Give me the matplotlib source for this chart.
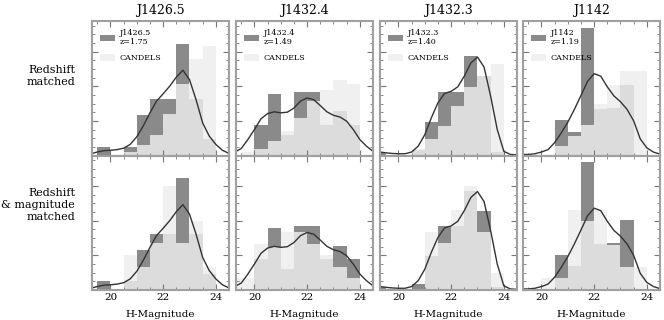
import matplotlib.pyplot as plt
from matplotlib.ticker import MultipleLocator
import numpy as np

plt.rcParams['font.family'] = ['DejaVu Serif']

# bin edges (H magnitude), shared by all panels
edges = [19.0, 19.5, 20.0, 20.5, 21.0, 21.5, 22.0, 22.5, 23.0, 23.5, 24.0, 24.5]

names = ["J1426.5", "J1432.4", "J1432.3", "J1142"]
redshifts = ["1.75", "1.49", "1.40", "1.19"]

# object histograms (same in both rows)
obj_1426 = [0, 0.25, 0, 0.25, 1.16, 1.62, 1.62, 3.22, 1.62, 0.47, 0]
obj_1432_4 = [0, 0, 0.89, 1.78, 0.60, 1.84, 1.84, 0.89, 1.27, 0.89, 0]
obj_1432_3 = [0.1, 0, 0, 0.16, 0.97, 1.84, 1.84, 2.86, 2.28, 0.1, 0]
obj_1142 = [0, 0, 0, 1.02, 0.69, 3.68, 1.34, 1.36, 2.02, 0, 0]

# CANDELS, redshift matched
cz_1426 = [0, 0, 0, 0.10, 0.30, 0.59, 1.20, 2.05, 2.79, 3.17, 0]
cz_1432_4 = [0, 0.10, 0.20, 0.41, 0.72, 1.07, 1.57, 1.88, 2.19, 2.07, 0]
cz_1432_3 = [0, 0, 0, 0.20, 0.49, 0.85, 1.42, 1.98, 2.30, 2.65, 0]
cz_1142 = [0, 0, 0, 0.27, 0.56, 0.87, 1.50, 2.03, 2.43, 2.45, 0]

# CANDELS, redshift & magnitude matched
czm_1426 = [0, 0, 0, 1.01, 0.67, 1.35, 3.00, 1.35, 2.00, 0.65, 0]
czm_1432_4 = [0.36, 0.36, 1.33, 1.25, 1.68, 1.68, 1.33, 1.00, 0.67, 0.34, 0]
czm_1432_3 = [0, 0, 0, 0, 1.68, 1.35, 2.32, 3.00, 1.68, 0.5, 0]
czm_1142 = [0, 0, 0.34, 0.34, 2.32, 2.00, 2.32, 1.30, 0.67, 0.67, 0]

# smoothed curve of the object magnitudes
curve_x = [19.3, 19.5, 19.75, 20.0, 20.25, 20.5, 20.75, 21.0, 21.25, 21.5, 21.75,
           22.0, 22.25, 22.5, 22.75, 23.0, 23.25, 23.5, 23.75, 24.0, 24.25, 24.5]
kde_1426 = [0.06, 0.10, 0.14, 0.15, 0.17, 0.21, 0.32, 0.54, 0.86, 1.23, 1.57,
            1.78, 2.00, 2.26, 2.46, 2.19, 1.61, 0.94, 0.56, 0.32, 0.15, 0.06]
kde_1432_4 = [0.12, 0.20, 0.46, 0.75, 1.06, 1.21, 1.26, 1.23, 1.25, 1.37, 1.57,
              1.66, 1.61, 1.44, 1.26, 1.16, 1.11, 0.99, 0.75, 0.46, 0.27, 0.12]
kde_1432_3 = [0.10, 0.08, 0.06, 0.05, 0.05, 0.10, 0.27, 0.60, 1.09, 1.52, 1.79,
              1.85, 1.98, 2.29, 2.67, 2.84, 2.55, 1.71, 0.75, 0.12, 0.03, 0.02]
kde_1142 = [0.03, 0.03, 0.05, 0.10, 0.17, 0.37, 0.65, 0.96, 1.33, 1.73, 2.14,
            2.36, 2.29, 1.98, 1.72, 1.55, 1.33, 1.00, 0.48, 0.22, 0.10, 0.04]

objs = [obj_1426, obj_1432_4, obj_1432_3, obj_1142]
cand_rows = [[cz_1426, cz_1432_4, cz_1432_3, cz_1142],
             [czm_1426, czm_1432_4, czm_1432_3, czm_1142]]
kdes = [kde_1426, kde_1432_4, kde_1432_3, kde_1142]

dark = '#8a8a8a'
light = '#ededed'
spine_col = '#a0a0a0'

fig = plt.figure(figsize=(6.64, 3.2), dpi=100)
lefts = [92, 236, 380, 523]
w = 137 / 664
h = 134.5 / 320
bottoms = [(320 - 155.5) / 320, (320 - 290) / 320]

left_edges = edges[:-1]
widths = np.diff(edges)

for r in range(2):
    for c in range(4):
        ax = fig.add_axes([lefts[c] / 664, bottoms[r], w, h])
        ax.bar(left_edges, objs[c], width=widths, align='edge', color=dark,
               linewidth=0, label=f"{names[c]}\nz={redshifts[c]}")
        ax.bar(left_edges, cand_rows[r][c], width=widths, align='edge', color=light,
               alpha=0.83, linewidth=0, label="CANDELS")
        ax.plot(curve_x, kdes[c], color='#333333', lw=1.0)
        ax.set_xlim(19.3, 24.5)
        ax.set_ylim(0, 3.88)
        ax.xaxis.set_major_locator(MultipleLocator(2))
        ax.xaxis.set_minor_locator(MultipleLocator(0.5))
        ax.yaxis.set_major_locator(MultipleLocator(1))
        ax.yaxis.set_minor_locator(MultipleLocator(0.25))
        ax.tick_params(which='both', direction='in', top=True, right=True,
                       color='#777777', labelsize=7.5, pad=2)
        ax.tick_params(which='major', length=4, width=0.8)
        ax.tick_params(which='minor', length=2, width=0.6)
        ax.set_yticklabels([])
        for s in ax.spines.values():
            s.set_color(spine_col)
            s.set_linewidth(1.5)
        if r == 0:
            ax.set_xticklabels([])
            ax.set_title(names[c], fontsize=9, pad=5)
            ax.legend(loc='upper left', frameon=False, fontsize=5.8,
                      handlelength=1.8, handleheight=0.9, labelspacing=1.0,
                      borderaxespad=0.6, handletextpad=0.6)
        else:
            ax.set_xlabel("H-Magnitude", fontsize=7.5, labelpad=6)

fig.text(75 / 664, 1 - 76 / 320, "Redshift\nmatched", ha='right', va='center',
         fontsize=8, linespacing=1.3)
fig.text(75 / 664, 1 - 205 / 320, "Redshift\n& magnitude\nmatched", ha='right',
         va='center', fontsize=8, linespacing=1.3)

fig.savefig("out.png", dpi=100)
